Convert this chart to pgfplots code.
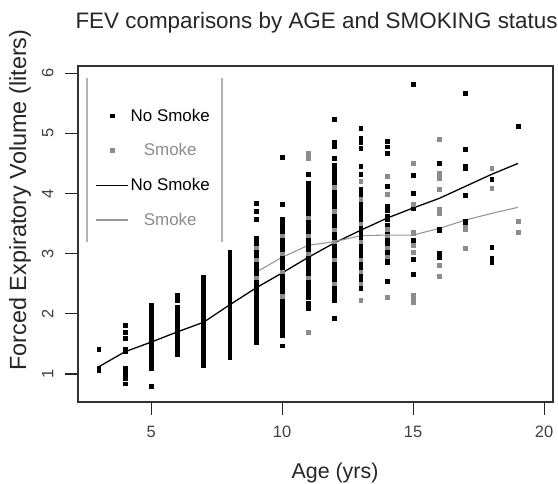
\documentclass[border=0pt]{standalone}
\usepackage{fontspec}
\setmainfont{Liberation Sans}
\usepackage{pgfplots}
\pgfplotsset{compat=1.18}
\definecolor{smk}{RGB}{140,140,140}
\definecolor{smkline}{RGB}{150,150,150}
\begin{document}
\begin{tikzpicture}
\useasboundingbox (0,0) rectangle (558bp,484bp);
\begin{axis}[
  at={(78bp,82bp)}, anchor=south west,
  scale only axis, width=475bp, height=336bp,
  xmin=2.21, xmax=20.34, ymin=0.535, ymax=6.12,
  xtick={5,10,15,20}, ytick={1,2,3,4,5,6},
  xtick pos=bottom, ytick pos=left,
  tick align=outside, major tick length=13bp,
  tick style={black!85, line width=1.1pt},
  axis line style={black!80, line width=1.2pt},
  /pgf/number format/assume math mode=true,
  ticklabel style={font=\fontsize{16.5}{17}\selectfont, text=black!75},
  xticklabel style={yshift=-8bp},
  yticklabel style={rotate=90, anchor=south, yshift=8bp},
  legend image code/.code={\draw[mark repeat=2,mark phase=2,#1] plot coordinates {(0bp,0bp) (16bp,0bp) (32bp,0bp)};},
  legend style={at={(0.03,0.885)}, anchor=north west, draw=none, fill=none,
    font=\fontsize{17}{18}\selectfont, row sep=17bp},
  legend cell align=center,
]
% Non-smokers
\addplot[only marks, mark=square*, mark size=1.9bp, black] coordinates {
(3,1.07)(3,1.10)(3,1.41)
(4,0.84)(4,0.93)(4,1.02)(4,1.10)(4,1.38)(4,1.42)(4,1.60)(4,1.70)(4,1.81)
(5,0.80)(5,1.10)(5,1.15)(5,1.20)(5,1.25)(5,1.30)(5,1.35)(5,1.40)(5,1.45)(5,1.50)(5,1.55)(5,1.60)(5,1.65)(5,1.70)(5,1.75)(5,1.80)(5,1.85)(5,1.90)(5,1.95)(5,2.00)(5,2.05)(5,2.10)(5,2.15)
(6,1.32)(6,1.37)(6,1.42)(6,1.47)(6,1.52)(6,1.57)(6,1.62)(6,1.67)(6,1.72)(6,1.77)(6,1.82)(6,1.87)(6,1.92)(6,1.97)(6,2.02)(6,2.07)(6,2.12)(6,2.22)(6,2.27)(6,2.31)
(7,1.15)(7,1.22)(7,1.28)(7,1.35)(7,1.40)(7,1.45)(7,1.50)(7,1.55)(7,1.60)(7,1.65)(7,1.70)(7,1.75)(7,1.80)(7,1.85)(7,1.90)(7,1.95)(7,2.00)(7,2.05)(7,2.10)(7,2.15)(7,2.20)(7,2.25)(7,2.30)(7,2.35)(7,2.42)(7,2.48)(7,2.55)(7,2.61)
(8,1.27)(8,1.32)(8,1.37)(8,1.42)(8,1.47)(8,1.52)(8,1.57)(8,1.62)(8,1.67)(8,1.72)(8,1.77)(8,1.82)(8,1.87)(8,1.92)(8,1.97)(8,2.02)(8,2.07)(8,2.12)(8,2.17)(8,2.22)(8,2.27)(8,2.32)(8,2.37)(8,2.42)(8,2.47)(8,2.52)(8,2.57)(8,2.62)(8,2.67)(8,2.72)(8,2.77)(8,2.82)(8,2.87)(8,2.92)(8,2.97)(8,3.03)
(9,1.53)(9,1.60)(9,1.68)(9,1.73)(9,1.78)(9,1.83)(9,1.88)(9,1.93)(9,1.98)(9,2.03)(9,2.08)(9,2.13)(9,2.18)(9,2.23)(9,2.28)(9,2.33)(9,2.38)(9,2.43)(9,2.48)(9,2.53)(9,2.58)(9,2.63)(9,2.68)(9,2.73)(9,2.78)(9,2.83)(9,2.88)(9,2.93)(9,2.98)(9,3.03)(9,3.08)(9,3.13)(9,3.18)(9,3.22)(9,3.26)(9,3.57)(9,3.71)(9,3.84)
(10,1.47)(10,1.65)(10,1.70)(10,1.75)(10,1.80)(10,1.85)(10,1.90)(10,1.95)(10,2.00)(10,2.05)(10,2.10)(10,2.15)(10,2.20)(10,2.25)(10,2.30)(10,2.35)(10,2.40)(10,2.45)(10,2.50)(10,2.55)(10,2.60)(10,2.65)(10,2.70)(10,2.75)(10,2.80)(10,2.85)(10,2.90)(10,2.95)(10,3.00)(10,3.05)(10,3.10)(10,3.15)(10,3.20)(10,3.25)(10,3.30)(10,3.35)(10,3.40)(10,3.45)(10,3.50)(10,3.57)(10,3.82)(10,4.60)
(11,2.10)(11,2.18)(11,2.28)(11,2.33)(11,2.38)(11,2.43)(11,2.48)(11,2.53)(11,2.58)(11,2.63)(11,2.68)(11,2.73)(11,2.78)(11,2.83)(11,2.88)(11,2.93)(11,2.98)(11,3.03)(11,3.08)(11,3.13)(11,3.18)(11,3.23)(11,3.28)(11,3.33)(11,3.38)(11,3.43)(11,3.48)(11,3.53)(11,3.58)(11,3.63)(11,3.68)(11,3.73)(11,3.78)(11,3.83)(11,3.88)(11,3.93)(11,3.98)(11,4.03)(11,4.08)(11,4.13)(11,4.17)(11,4.32)
(12,1.93)(12,2.23)(12,2.28)(12,2.33)(12,2.38)(12,2.43)(12,2.48)(12,2.53)(12,2.58)(12,2.63)(12,2.68)(12,2.73)(12,2.78)(12,2.83)(12,2.88)(12,2.93)(12,2.98)(12,3.03)(12,3.08)(12,3.13)(12,3.18)(12,3.23)(12,3.28)(12,3.33)(12,3.38)(12,3.43)(12,3.48)(12,3.53)(12,3.58)(12,3.63)(12,3.68)(12,3.73)(12,3.78)(12,3.83)(12,3.88)(12,3.93)(12,3.98)(12,4.03)(12,4.08)(12,4.13)(12,4.18)(12,4.24)(12,4.32)(12,4.40)(12,4.48)(12,4.59)(12,4.79)(12,4.85)(12,5.24)
(13,2.43)(13,2.48)(13,2.53)(13,2.58)(13,2.63)(13,2.68)(13,2.73)(13,2.78)(13,2.83)(13,2.88)(13,2.93)(13,2.98)(13,3.03)(13,3.08)(13,3.13)(13,3.18)(13,3.23)(13,3.28)(13,3.33)(13,3.38)(13,3.43)(13,3.48)(13,3.53)(13,3.60)(13,3.66)(13,3.72)(13,3.78)(13,3.84)(13,3.90)(13,3.96)(13,4.02)(13,4.07)(13,4.32)(13,4.45)(13,4.75)(13,4.85)(13,4.92)(13,5.09)
(14,2.54)(14,2.86)(14,2.91)(14,2.96)(14,3.01)(14,3.06)(14,3.11)(14,3.16)(14,3.21)(14,3.26)(14,3.31)(14,3.36)(14,3.47)(14,3.57)(14,3.62)(14,3.72)(14,3.79)(14,4.12)(14,4.67)(14,4.78)(14,4.87)
(15,2.66)(15,2.91)(15,3.23)(15,3.76)(15,4.01)(15,4.31)(15,5.82)
(16,2.94)(16,3.01)(16,3.39)(16,3.41)(16,4.50)
(17,3.51)(17,3.54)(17,3.97)(17,4.42)(17,4.45)(17,4.74)(17,5.67)
(18,2.86)(18,2.90)(18,2.93)(18,3.11)(18,4.24)
(19,5.12)
};
\addlegendentry{No Smoke}
% Smokers
\addplot[only marks, mark=square*, mark size=1.9bp, smk] coordinates {
(9,2.60)(9,2.90)(9,3.10)
(10,2.30)(10,2.70)(10,3.00)(10,3.30)
(11,1.70)(11,2.60)(11,3.00)(11,3.30)(11,3.60)(11,4.59)(11,4.67)
(12,2.50)(12,2.90)(12,3.20)(12,3.40)(12,3.70)(12,4.10)
(13,2.23)(13,2.50)(13,2.70)(13,2.90)(13,3.20)(13,3.50)(13,3.90)(13,4.20)
(14,2.28)(14,2.95)(14,3.10)(14,3.30)(14,3.41)(14,3.99)(14,4.29)
(15,2.20)(15,2.26)(15,2.31)(15,3.03)(15,3.14)(15,3.34)(15,3.36)(15,3.82)(15,4.50)
(16,2.63)(16,2.81)(16,3.67)(16,3.74)(16,4.07)(16,4.26)(16,4.34)(16,4.90)
(17,3.09)(17,3.41)(17,3.44)
(18,4.09)(18,4.42)
(19,3.36)(19,3.54)
};
\addlegendentry[text=smk]{Smoke}
% Lowess, non-smokers
\addplot[black, line width=1.3pt, mark=none] coordinates {
(3,1.12)(4,1.37)(5,1.53)(6,1.70)(7,1.86)(8,2.15)(9,2.43)(10,2.68)(11,2.94)(12,3.18)(13,3.39)(14,3.59)(15,3.76)(16,3.92)(17,4.12)(18,4.32)(19,4.50)
};
\addlegendentry{No Smoke}
% Lowess, smokers
\addplot[smkline, line width=1.1pt, mark=none] coordinates {
(9,2.69)(10,2.94)(11,3.14)(12,3.20)(13,3.30)(14,3.31)(15,3.31)(16,3.42)(17,3.56)(18,3.67)(19,3.77)
};
\addlegendentry[text=smk]{Smoke}
\draw[black!30, line width=1.5pt] (axis description cs:0.019,0.964) -- (axis description cs:0.019,0.476);
\draw[black!30, line width=1.5pt] (axis description cs:0.303,0.964) -- (axis description cs:0.303,0.476);
\end{axis}
\node[anchor=west, font=\fontsize{22.5}{24}\selectfont, text=black!85] at (72bp,461bp) {FEV comparisons by AGE and SMOKING status};
\node[rotate=90, font=\fontsize{23.5}{24}\selectfont, text=black!85] at (20bp,284bp) {Forced Expiratory Volume (liters)};
\node[font=\fontsize{21.5}{23}\selectfont, text=black!85] at (335bp,11bp) {Age (yrs)};
\end{tikzpicture}
\end{document}
